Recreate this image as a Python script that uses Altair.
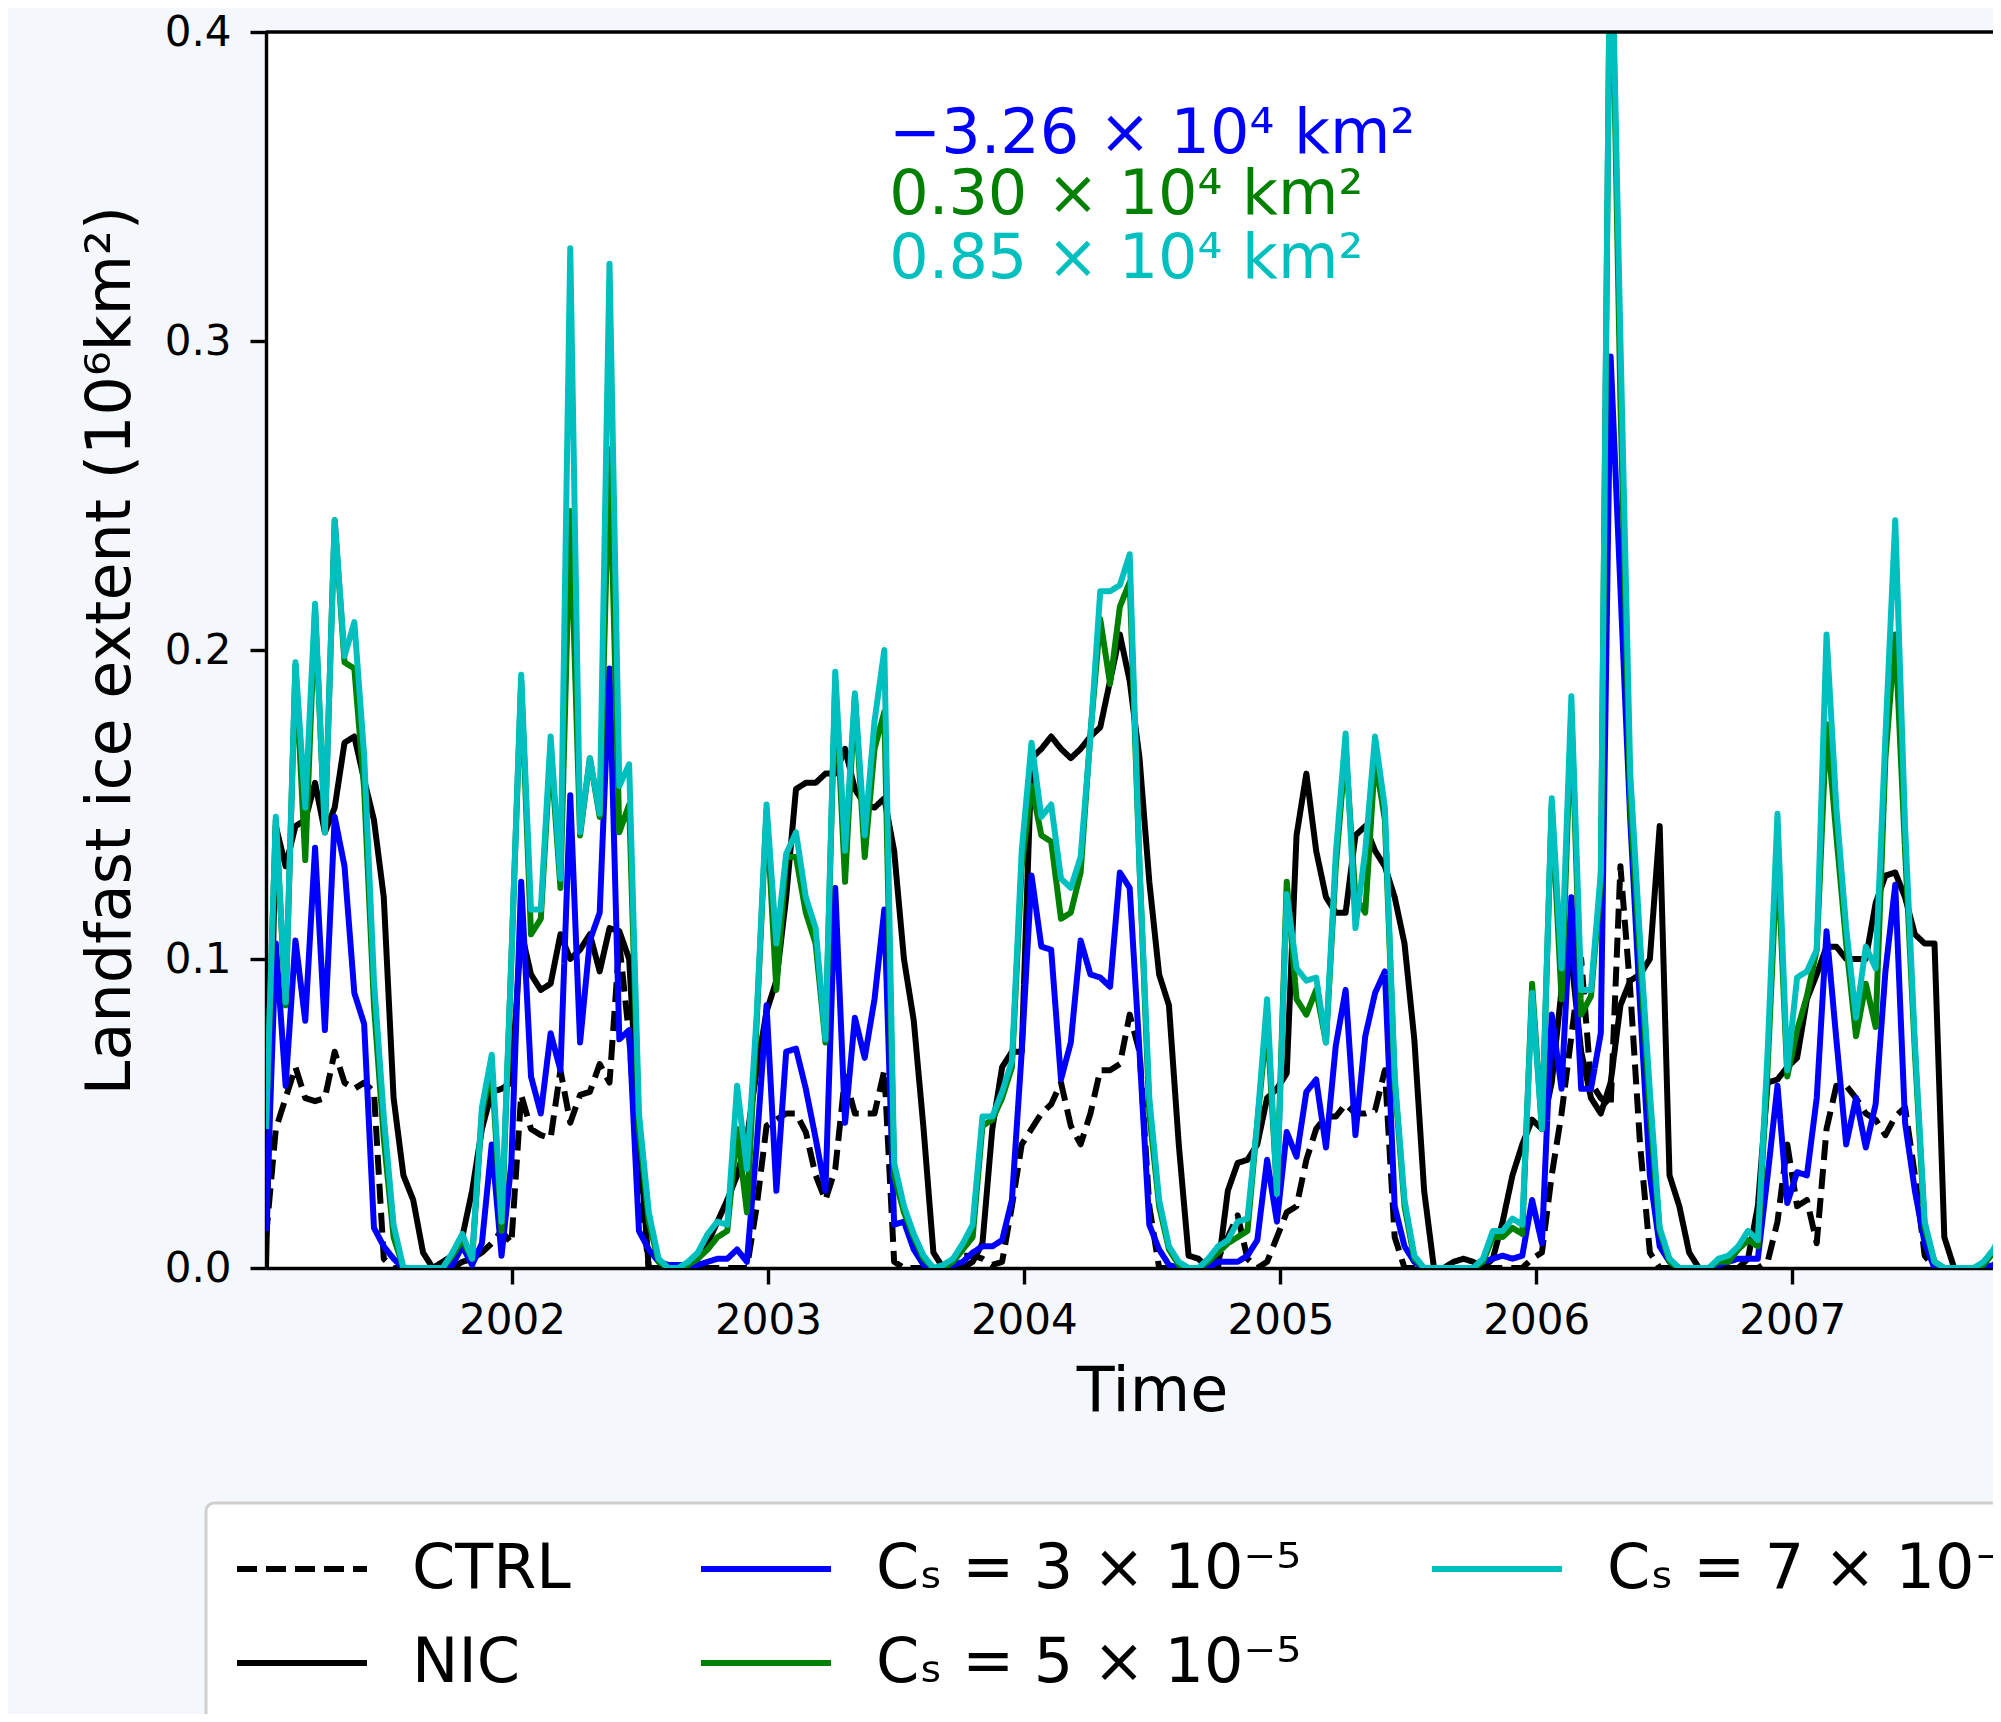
import altair as alt
import pandas as pd

# ---------------- data (one every 14 days) -----------
START_DATE = "2001-01-15"
STEP_DAYS = 14
VISIBLE_STEPS = 175.96          # right edge of the visible x-range, in 14-day steps

ctrl = [
    .010, .045, .055, .065, .055, .054, .055, .070, .060, .058,
    .060, .057, .003, 0, 0, 0, 0, 0, 0, 0,
    .002, .003, .005, .008, .012, .008, .056, .045, .043, .042,
    .064, .047, .056, .057, .066, .060, .105, .075, .030, 0,
    0, 0, 0, 0, 0, 0, 0, 0, 0, 0,
    .020, .046, .048, .050, .050, .044, .030, .022, .032, .062,
    .050, .050, .050, .064, .002, 0, 0, 0, 0, 0,
    .001, .004, .004, .003, .001, .002, .020, .040, .045, .050,
    .053, .060, .046, .040, .050, .064, .064, .066, .082, .070,
    .020, 0, 0, 0, 0, 0, 0, .003, .010, .017,
    .003, 0, .002, .010, .018, .020, .035, .045, .049, .049,
    .053, .050, .050, .051, .064, .010, 0, 0, 0, 0,
    0, 0, 0, 0, 0, 0, 0, 0, 0, .003,
    .005, .030, .050, .075, .100, .060, .055, .052, .130, .090,
    .040, .005, 0, 0, 0, 0, 0, 0, 0, 0,
    0, 0, 0, .002, .015, .040, .020, .022, .008, .045,
    .059, .059, .055, .050, .048, .043, .049, .052, .030, .004,
    0, 0, 0, 0, 0, 0, 0, 0,
]

nic = [
    0, .143, .130, .143, .145, .157, .141, .149, .170, .172,
    .158, .145, .120, .055, .030, .022, .005, 0, .002, .004,
    .010, .025, .045, .057, .058, .060, .109, .095, .090, .092,
    .108, .100, .103, .108, .096, .110, .109, .100, .044, 0,
    0, 0, 0, 0, .003, .008, .015, .022, .030, .042,
    .064, .083, .093, .120, .155, .157, .157, .160, .160, .168,
    .155, .150, .149, .152, .135, .100, .080, .045, .005, 0,
    0, 0, .002, .008, .045, .065, .070, .070, .165, .168,
    .172, .168, .165, .168, .172, .175, .190, .205, .190, .165,
    .125, .095, .085, .040, .004, .003, 0, 0, .025, .034,
    .035, .040, .055, .058, .063, .140, .160, .135, .120, .115,
    .115, .140, .143, .135, .130, .120, .105, .074, .025, 0,
    0, .002, .003, .002, 0, .003, .015, .030, .040, .048,
    .045, .060, .090, .100, .070, .055, .050, .060, .085, .093,
    .095, .100, .143, .030, .020, .005, 0, 0, 0, 0,
    0, .003, .020, .060, .061, .065, .068, .087, .095, .104,
    .104, .100, .100, .100, .118, .127, .128, .120, .108, .105,
    .105, .010, 0, 0, 0, 0, 0, 0,
]

cs3 = [
    .012, .105, .059, .106, .080, .136, .077, .146, .130, .089,
    .079, .013, .007, .003, 0, 0, 0, 0, 0, .001,
    .007, .001, .008, .040, .004, .034, .125, .062, .050, .076,
    .064, .153, .073, .106, .115, .194, .074, .077, .012, .006,
    .002, .001, .001, .001, .001, .002, .003, .003, .006, .002,
    .040, .085, .025, .070, .071, .058, .042, .025, .123, .047,
    .081, .068, .087, .116, .014, .015, .006, .001, 0, 0,
    .001, .002, .005, .007, .007, .009, .022, .070, .127, .104,
    .103, .061, .073, .106, .095, .094, .091, .128, .123, .070,
    .014, .006, .001, 0, 0, 0, 0, .002, .002, .002,
    .004, .009, .035, .015, .044, .036, .057, .061, .039, .072,
    .090, .043, .075, .089, .096, .020, .007, .002, 0, 0,
    0, 0, 0, 0, .002, .003, .004, .003, .004, .022,
    .008, .082, .058, .120, .058, .058, .076, .295, .220, .145,
    .085, .030, .007, .002, 0, 0, 0, 0, .001, .002,
    .003, .003, .003, .030, .059, .021, .031, .030, .055, .109,
    .074, .040, .055, .039, .053, .096, .124, .047, .025, .008,
    0, 0, 0, 0, 0, 0, .001, .003,
]

cs5 = [
    .045, .145, .085, .195, .132, .213, .141, .242, .196, .194,
    .155, .085, .042, .010, 0, 0, 0, 0, 0, .004,
    .009, .003, .050, .065, .012, .100, .190, .108, .113, .168,
    .123, .245, .140, .165, .146, .265, .141, .150, .045, .015,
    .002, 0, 0, .001, .003, .006, .010, .012, .045, .018,
    .080, .148, .090, .133, .133, .115, .105, .073, .190, .125,
    .185, .133, .168, .180, .030, .018, .010, .003, 0, 0,
    .002, .006, .010, .046, .048, .055, .065, .130, .156, .140,
    .138, .113, .115, .128, .173, .210, .189, .214, .222, .130,
    .050, .020, .006, .001, 0, 0, .002, .005, .008, .010,
    .012, .047, .080, .025, .125, .087, .082, .090, .073, .130,
    .168, .120, .115, .165, .145, .060, .020, .003, 0, 0,
    0, 0, 0, 0, .002, .010, .010, .013, .011, .092,
    .045, .150, .087, .180, .082, .088, .125, .450, .280, .150,
    .100, .050, .012, .002, 0, 0, 0, 0, .002, .002,
    .006, .009, .007, .065, .135, .062, .077, .088, .103, .176,
    .140, .105, .075, .092, .078, .165, .205, .135, .070, .013,
    .002, 0, 0, 0, 0, .001, .005, .010,
]

cs7 = [
    .045, .146, .086, .196, .149, .215, .141, .242, .198, .209,
    .166, .093, .049, .014, 0, 0, 0, 0, 0, .005,
    .011, .003, .052, .069, .015, .100, .192, .116, .116, .172,
    .126, .330, .141, .165, .147, .325, .156, .163, .050, .018,
    .003, 0, 0, .002, .005, .011, .015, .014, .059, .032,
    .082, .150, .105, .134, .141, .120, .110, .074, .193, .135,
    .186, .140, .177, .200, .034, .020, .011, .004, 0, .001,
    .003, .008, .014, .049, .049, .057, .067, .135, .170, .146,
    .150, .126, .123, .133, .172, .219, .219, .221, .231, .130,
    .055, .022, .007, .002, 0, 0, .003, .007, .009, .015,
    .016, .047, .087, .024, .121, .097, .093, .094, .073, .134,
    .173, .110, .135, .172, .149, .062, .022, .004, 0, 0,
    0, 0, 0, 0, .003, .012, .012, .016, .014, .089,
    .045, .152, .097, .185, .090, .090, .128, .450, .300, .160,
    .106, .057, .013, .003, 0, 0, 0, 0, .003, .004,
    .007, .012, .009, .070, .147, .064, .094, .096, .103, .205,
    .149, .110, .081, .104, .097, .172, .242, .143, .073, .015,
    .002, 0, 0, 0, 0, .002, .006, .012,
]

series_names = ["CTRL", "NIC", "Cₛ = 3 × 10⁻⁵", "Cₛ = 5 × 10⁻⁵", "Cₛ = 7 × 10⁻⁵"]
series_values = [ctrl, nic, cs3, cs5, cs7]
series_colors = ["#000000", "#000000", "#0000ff", "#008000", "#00bfbf"]
series_dashes = [[20, 9], [1, 0], [1, 0], [1, 0], [1, 0]]

year_ticks = [2002, 2003, 2004, 2005, 2006, 2007]
y_ticks = [0.0, 0.1, 0.2, 0.3, 0.4]

annot_texts = ["−3.26 × 10⁴ km²", "0.30 × 10⁴ km²", "0.85 × 10⁴ km²"]
annot_colors = ["#0000ff", "#008000", "#00bfbf"]
annot_y = [0.361, 0.341, 0.3205]
annot_day_offset = 889           # days after START_DATE where the text starts

# ---------------- build tables ----------------
start = pd.Timestamp(START_DATE)
rows = []
for name, vals in zip(series_names, series_values):
    for k, v in enumerate(vals):
        rows.append({"date": (start + pd.Timedelta(days=STEP_DAYS * k)).strftime("%Y-%m-%dT%H:%M:%S"),
                     "value": v, "series": name})
df = pd.DataFrame(rows)

annot_date = (start + pd.Timedelta(days=annot_day_offset)).strftime("%Y-%m-%dT%H:%M:%S")
df_txt = pd.DataFrame({"date": [annot_date] * 3, "value": annot_y,
                       "label": annot_texts, "col": annot_colors})

end = start + pd.Timedelta(days=STEP_DAYS * VISIBLE_STEPS)


def dt(ts):
    return alt.DateTime(year=ts.year, month=ts.month, date=ts.day, hours=ts.hour, minutes=ts.minute)


# legend fills column by column: CTRL/NIC, Cs3/Cs5, Cs7
color_scale = alt.Scale(domain=series_names, range=series_colors)
dash_scale = alt.Scale(domain=series_names, range=series_dashes)

W, H = 1727, 1236
FONT = "DejaVu Sans"

legend = alt.Legend(
    title=None, orient="none", legendX=-60, legendY=1471, columns=3, direction="vertical",
    columnPadding=127, rowPadding=18, padding=28, clipHeight=76,
    symbolType="stroke", symbolSize=16900, symbolStrokeWidth=6,
    labelFont=FONT, labelFontSize=62, labelColor="black", labelOffset=42, labelLimit=800,
    fillColor="white", strokeColor="#cfcfcf", cornerRadius=8,
)

x_enc = alt.X("date:T",
              scale=alt.Scale(domain=[dt(start), dt(end)]),
              axis=alt.Axis(values=[alt.DateTime(year=y, month=1, date=1) for y in year_ticks],
                            format="%Y", title="Time", titleX=886, titleY=142,
                            titleBaseline="alphabetic", titleAlign="center",
                            labelPadding=16, labelFlush=False, labelOverlap=False))
y_enc = alt.Y("value:Q",
              scale=alt.Scale(domain=[0, 0.4], nice=False, zero=False),
              axis=alt.Axis(values=y_ticks, format=".1f",
                            title="Landfast ice extent (10⁶km²)",
                            titleX=-137, titleY=H / 2, titleAngle=270,
                            titleBaseline="alphabetic", titleAlign="center",
                            labelPadding=19))

layers = []
for name in series_names:
    layers.append(
        alt.Chart(df).transform_filter(alt.datum.series == name)
        .mark_line(clip=True, strokeWidth=6, strokeJoin="round", strokeCap="butt")
        .encode(x=x_enc, y=y_enc,
                color=alt.Color("series:N", scale=color_scale, legend=legend),
                strokeDash=alt.StrokeDash("series:N", scale=dash_scale, legend=legend))
    )

text = alt.Chart(df_txt).mark_text(align="left", baseline="alphabetic", font=FONT,
                                   fontSize=62).encode(
    x="date:T", y="value:Q", text="label:N", color=alt.Color("col:N", scale=None))

top_spine = alt.Chart(pd.DataFrame({"a": [0]})).mark_rule(color="black", strokeWidth=3.4).encode(
    x=alt.value(0), x2=alt.value(W), y=alt.value(0))

chart = (
    alt.layer(*layers, text, top_spine)
    .properties(width=W, height=H, background="#f4f8fc",
                autosize=alt.AutoSizeParams(type="none"),
                padding={"left": 258, "top": 24, "right": 0, "bottom": 446})
    .configure_view(stroke=None, fill="white")
    .configure_axis(domainColor="black", domainWidth=3.4, tickColor="black", tickWidth=3.4,
                    tickSize=16, labelFont=FONT, labelFontSize=42, labelColor="black",
                    titleFont=FONT, titleFontSize=62, titleFontWeight="normal",
                    titleColor="black", grid=False, zindex=1)
    .configure_legend(strokeWidth=3)
)

chart.save("out.html", embed_options={"renderer": "svg", "actions": False})
